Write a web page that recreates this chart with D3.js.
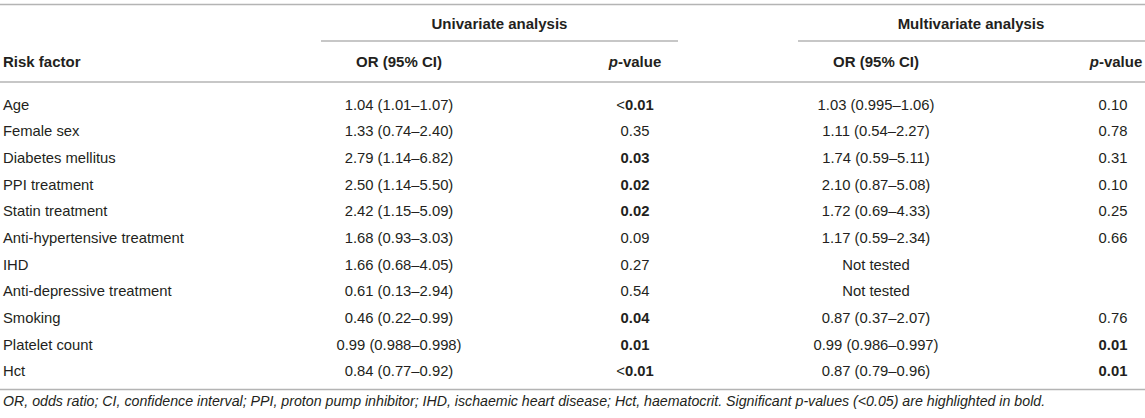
<!DOCTYPE html>
<html>
  <head>
    <meta charset="utf-8">
    <title>Risk factors</title>
    <style media="screen">
    body{margin: 0; background: #fff}
    svg text{font-family: "Liberation Sans", Arial, sans-serif; fill: #231f20}
    </style>
  </head>
  <body>
    <script src="https://d3js.org/d3.v7.min.js"></script>
    <script type="text/javascript">
      var w = 1145, h = 418;

      var factors = ["Age", "Female sex", "Diabetes mellitus", "PPI treatment", "Statin treatment",
        "Anti-hypertensive treatment", "IHD", "Anti-depressive treatment", "Smoking",
        "Platelet count", "Hct"];
      var uniOR = ["1.04 (1.01–1.07)", "1.33 (0.74–2.40)", "2.79 (1.14–6.82)", "2.50 (1.14–5.50)",
        "2.42 (1.15–5.09)", "1.68 (0.93–3.03)", "1.66 (0.68–4.05)", "0.61 (0.13–2.94)",
        "0.46 (0.22–0.99)", "0.99 (0.988–0.998)", "0.84 (0.77–0.92)"];
      var uniP = ["<0.01", "0.35", "0.03", "0.02", "0.02", "0.09", "0.27", "0.54", "0.04", "0.01", "<0.01"];
      var multiOR = ["1.03 (0.995–1.06)", "1.11 (0.54–2.27)", "1.74 (0.59–5.11)", "2.10 (0.87–5.08)",
        "1.72 (0.69–4.33)", "1.17 (0.59–2.34)", "Not tested", "Not tested",
        "0.87 (0.37–2.07)", "0.99 (0.986–0.997)", "0.87 (0.79–0.96)"];
      var multiP = ["0.10", "0.78", "0.31", "0.10", "0.25", "0.66", "", "", "0.76", "0.01", "0.01"];

      var footnote = "OR, odds ratio; CI, confidence interval; PPI, proton pump inhibitor; IHD, ischaemic heart disease; Hct, haematocrit. Significant p-values (<0.05) are highlighted in bold.";

      var svg = d3.select('body').append('svg')
        .attr('width', w)
        .attr('height', h)

      var y = d3.scaleBand().domain(factors).range([91, 384]).paddingInner(0)

      var cols = {factor: 3, uniOR: 399, uniP: 635, multiOR: 876, multiP: 1113}
      var fs = 14.8

      function rule(x1, x2, yy) {
        svg.append('line')
          .attr('x1', x1).attr('x2', x2)
          .attr('y1', yy).attr('y2', yy)
          .attr('stroke', '#b4b4b4')
          .attr('stroke-width', 1.6)
      }

      rule(0, w, 4.5)
      rule(321, 678, 41)
      rule(798, w, 41)
      rule(0, w, 82)
      rule(0, w, 389.5)

      // group headers
      svg.append('text').attr('x', 499.5).attr('y', 29).attr('text-anchor', 'middle')
        .attr('font-size', 15).attr('font-weight', 'bold').text('Univariate analysis')
      svg.append('text').attr('x', 971).attr('y', 29).attr('text-anchor', 'middle')
        .attr('font-size', 15).attr('font-weight', 'bold').text('Multivariate analysis')

      // column headers
      var head = svg.append('g').attr('font-size', 15).attr('font-weight', 'bold')
      head.append('text').attr('x', cols.factor).attr('y', 67).text('Risk factor')
      head.append('text').attr('x', cols.uniOR).attr('y', 67).attr('text-anchor', 'middle').text('OR (95% CI)')
      head.append('text').attr('x', cols.multiOR).attr('y', 67).attr('text-anchor', 'middle').text('OR (95% CI)')
      ;[cols.uniP, cols.multiP + 3].forEach(function(x){
        var t = head.append('text').attr('x', x).attr('y', 67).attr('text-anchor', 'middle')
        t.append('tspan').attr('font-style', 'italic').text('p')
        t.append('tspan').text('-value')
      })

      function sig(p) {
        if (!p) return false
        return parseFloat(p.replace('<', '')) < 0.05
      }

      var rows = svg.selectAll('g.row')
        .data(factors.map(function(f, i){
          return {f: f, uo: uniOR[i], up: uniP[i], mo: multiOR[i], mp: multiP[i]}
        }))
        .enter()
          .append('g')
          .attr('class', 'row')
          .attr('font-size', fs)
          .attr('transform', function(d){ return 'translate(0,' + (y(d.f) + y.bandwidth() / 2 + 5.5) + ')' })

      rows.append('text').attr('x', cols.factor).text(function(d){ return d.f })
      rows.append('text').attr('x', cols.uniOR).attr('text-anchor', 'middle').text(function(d){ return d.uo })
      rows.append('text').attr('x', cols.multiOR).attr('text-anchor', 'middle').text(function(d){ return d.mo })

      function pText(sel, key, x) {
        sel.append('text').attr('x', x).attr('text-anchor', 'middle')
          .each(function(d){
            var p = d[key], t = d3.select(this)
            if (p.charAt(0) === '<') {
              t.append('tspan').text('<')
              p = p.slice(1)
            }
            t.append('tspan').attr('font-weight', sig(d[key]) ? 'bold' : 'normal').text(p)
          })
      }
      pText(rows, 'up', cols.uniP)
      pText(rows, 'mp', cols.multiP)

      svg.append('text').attr('x', 3).attr('y', 406)
        .attr('font-size', 14.2).attr('font-style', 'italic').text(footnote)
    </script>
  </body>
</html>
